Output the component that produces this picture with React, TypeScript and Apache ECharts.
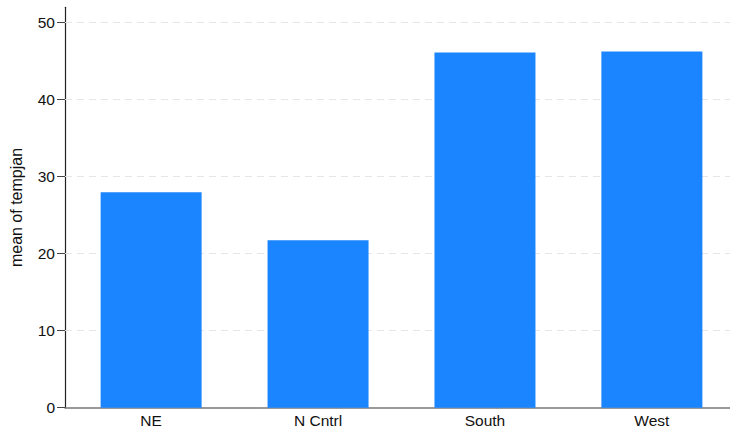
import React, { useEffect, useRef } from "react";
import * as echarts from "echarts";

const categories = ["NE", "N Cntrl", "South", "West"];
const meanTempjan = [27.97, 21.75, 46.13, 46.26];
const yTicks = [0, 10, 20, 30, 40, 50];
const gridValues = [10, 20, 30, 40, 50];

export default function App() {
  const ref = useRef<HTMLDivElement>(null);
  useEffect(() => {
    if (!ref.current) return;
    const chart = echarts.init(ref.current, undefined, { renderer: "svg" });
    const font = "'Liberation Sans', Arial, Helvetica, sans-serif";
    chart.setOption({
      animation: false,
      grid: { left: 62, right: 0, top: 7.3, bottom: 22.3 },
      xAxis: {
        type: "value",
        min: -0.516,
        max: 3.468,
        axisLine: { show: true, onZero: false, lineStyle: { color: "#777", width: 1.5 } },
        axisTick: { show: false },
        splitLine: { show: false },
        axisLabel: {
          customValues: categories.map((_, i) => i),
          formatter: (v: number) => categories[Math.round(v)] ?? "",
          color: "#111",
          fontSize: 15.5,
          fontFamily: font,
          margin: 5,
        },
      },
      yAxis: {
        type: "value",
        min: 0,
        max: 52,
        name: "mean of tempjan",
        nameLocation: "middle",
        nameRotate: 90,
        nameGap: 41,
        nameTextStyle: { color: "#111", fontSize: 16, fontFamily: font },
        axisLine: { show: true, onZero: false, lineStyle: { color: "#222", width: 1.2 } },
        axisTick: { show: true, length: 8, customValues: yTicks, lineStyle: { color: "#444" } },
        splitLine: { show: false },
        axisLabel: {
          customValues: yTicks,
          color: "#111",
          fontSize: 15.5,
          fontFamily: font,
          margin: 10,
        },
      },
      series: [
        {
          type: "bar",
          data: meanTempjan.map((v, i) => [i, v]),
          barWidth: 101,
          itemStyle: { color: "#1a85ff" },
          markLine: {
            silent: true,
            symbol: "none",
            label: { show: false },
            lineStyle: { type: [7, 5], color: "#e6e6e6", width: 1 },
            data: gridValues.map((v) => ({ yAxis: v })),
            z: 1,
          },
          z: 2,
        },
      ],
    });
    return () => chart.dispose();
  }, []);
  return (
    <div
      ref={ref}
      style={{ position: "fixed", left: 0, top: 0, width: 730, height: 430, background: "#fff" }}
    />
  );
}
